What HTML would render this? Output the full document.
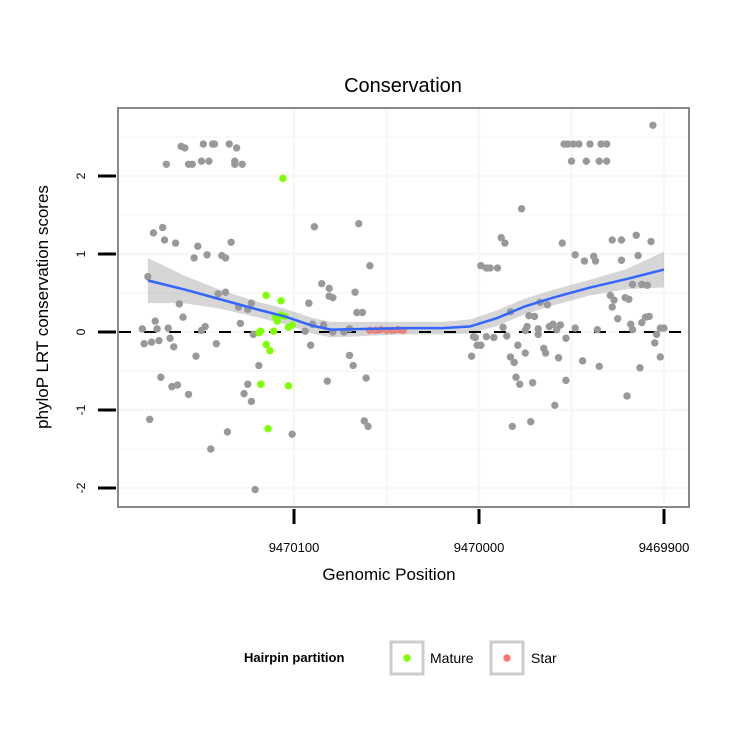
<!DOCTYPE html>
<html><head><meta charset="utf-8"><style>
body{margin:0;background:#fff;font-family:"Liberation Sans",sans-serif}
</style></head><body>
<svg id="c" width="750" height="750" xmlns="http://www.w3.org/2000/svg" style="font-family:'Liberation Sans',sans-serif">
<text x="403" y="92" text-anchor="middle" font-size="20">Conservation</text>
<g id="grid"></g><g id="band"></g><g id="pts"></g><g id="line"></g>
<rect x="118" y="108" width="571" height="399" fill="none" stroke="#888" stroke-width="2"/>
<g id="axes"></g>
<text x="389" y="580" text-anchor="middle" font-size="17">Genomic Position</text>
<text transform="translate(48,307) rotate(-90)" text-anchor="middle" font-size="17">phyloP LRT conservation scores</text>
<g>
<text x="244" y="662" font-size="13" font-weight="bold">Hairpin partition</text>
<g><rect x="391" y="642" width="32" height="32" fill="#fff" stroke="#ccc" stroke-width="3"/><circle cx="407" cy="658" r="3.7" fill="#7FFF00"/><text x="430" y="663" font-size="14">Mature</text></g>
<g><rect x="491" y="642" width="32" height="32" fill="#fff" stroke="#ccc" stroke-width="3"/><circle cx="507" cy="658" r="3.7" fill="#F8766D"/><text x="531" y="663" font-size="14">Star</text></g>
</g>
</svg>
<script>
const BASE=9470100;
const greyPos=[61,59,49,44,43,35,31,69,57,55,50,46,32,32,28,-11,76,71,70,64,52,54,47,39,37,34,79,41,37,62,30,25,23,60,75,74,82,68,48,50,29,22,-8,-10,-6,81,77,73,67,65,53,42,-9,19,72,66,63,57,25,27,23,78,36,45,1,21,
-35,-41,-15,-19,-19,-21,-33,-8,-34,-37,-16,-30,-21,-27,-30,-32,-18,-39,-38,-40,-101,-104,-98,-104,-99,-101,-96,
-194,-146,-148,-151,-154,-160,-166,-169,-150,-158,-165,-169,-123,-112,-114,-145,-172,-177,-185,-193,-152,-157,-162,-163,-177,-186,-106,-110,-183,-188,-191,-133,-137,-171,-173,-179,-181,-172,-117,-127,-130,-175,-190,-192,-188,-113,-126,-132,-138,-140,-144,-152,-164,-182,-183,-198,-200,-97,-108,-115,-125,-132,-142,-147,-196,-195,-121,-117,-119,-125,-135,-136,-143,-156,-165,-187,-198,-120,-122,-129,-147,-141,-180,-118,-128];
const greyScore=[2.38,2.36,2.41,2.41,2.41,2.41,2.36,2.15,2.15,2.15,2.19,2.19,2.19,2.15,2.15,1.35,1.27,1.34,1.18,1.14,1.10,0.95,0.99,0.98,0.95,1.15,0.71,0.49,0.51,0.36,0.32,0.29,0.37,0.19,0.14,0.04,0.04,0.05,0.07,0.02,0.11,-0.03,0.37,0.10,0.01,-0.15,-0.13,-0.11,-0.08,-0.19,-0.31,-0.15,-0.17,-0.43,-0.58,-0.70,-0.68,-0.80,-0.67,-0.79,-0.89,-1.12,-1.28,-1.50,-1.31,-2.02,
1.39,0.85,0.62,0.56,0.46,0.44,0.51,0.37,0.25,0.25,0.09,0.04,0,0,-0.30,-0.43,-0.63,-0.59,-1.14,-1.21,0.85,0.82,-0.07,-0.06,-0.17,-0.17,-0.31,
2.65,2.41,2.41,2.41,2.41,2.41,2.41,2.41,2.19,2.19,2.19,2.19,1.58,1.21,1.14,1.14,1.18,1.18,1.24,1.16,0.99,0.91,0.97,0.91,0.92,0.98,0.82,0.82,0.61,0.61,0.60,0.38,0.35,0.47,0.41,0.44,0.42,0.32,0.26,0.21,0.20,0.17,0.19,0.20,0.12,0.06,0.07,0.04,0.07,0.10,0.09,0.05,0.03,0.10,0.03,0.05,0.05,-0.06,-0.07,-0.05,0.02,-0.03,0.03,-0.08,-0.03,-0.14,-0.17,-0.32,-0.39,-0.27,-0.21,-0.27,-0.33,-0.37,-0.44,-0.46,-0.32,-0.58,-0.67,-0.65,-0.62,-0.94,-0.82,-1.21,-1.15];
const maturePos=[6,15,7,10,7,9,5,1,3,11,18,19,15,13,18,3,14];
const matureScore=[1.97,0.47,0.40,0.19,0.22,0.14,0.20,0.09,0.06,0.01,0.01,-0.01,-0.16,-0.24,-0.67,-0.69,-1.24];
const starPos=[-41,-44,-47,-50,-53,-56,-59];
const starScore=[0.02,0.02,0.03,0.02,0.02,0.03,0.02];
const smoothPos=[79,60,40,20,5,-10,-20,-40,-60,-80,-95,-110,-125,-140,-160,-180,-200];
const smoothFit=[0.66,0.55,0.42,0.29,0.20,0.08,0.03,0.04,0.05,0.05,0.07,0.18,0.33,0.44,0.57,0.68,0.80];
const smoothSE=[0.29,0.18,0.12,0.10,0.10,0.10,0.10,0.09,0.08,0.08,0.09,0.10,0.10,0.10,0.10,0.13,0.23];
const yTicks=[-2,-1,0,1,2];
const xTicks=[9470100,9470000,9469900];
const NS="http://www.w3.org/2000/svg";
const X=p=>294+(9470100-p)*1.85;
const Y=s=>332-s*78;
function mk(t,a,parent){const e=document.createElementNS(NS,t);for(const k in a)e.setAttribute(k,a[k]);parent.appendChild(e);return e;}
const grid=document.getElementById('grid');
[-2,-1.5,-1,-0.5,0,0.5,1,1.5,2,2.5].forEach(v=>{const e=mk('line',{x1:119,x2:688,y1:Y(v),y2:Y(v),stroke:'#f7f7f7','stroke-width':v%1?1.5:2.5},grid);

});
[9470100,9470050,9470000,9469950,9469900].forEach(v=>{const e=mk('line',{x1:X(v),x2:X(v),y1:109,y2:506,stroke:'#f7f7f7','stroke-width':2.5},grid);

});
const band=document.getElementById('band');
let d='';smoothPos.forEach((p,i)=>{d+=(i?'L':'M')+X(BASE+p)+','+Y(smoothFit[i]+smoothSE[i]);});
for(let i=smoothPos.length-1;i>=0;i--)d+='L'+X(BASE+smoothPos[i])+','+Y(smoothFit[i]-smoothSE[i]);
const b=mk('path',{d:d+'Z',fill:'#999','fill-opacity':0.4},band);


const hl=mk('line',{x1:119,x2:688,y1:Y(0),y2:Y(0),stroke:'#000','stroke-width':2,'stroke-dasharray':'12,13'},band);


const pts=document.getElementById('pts');
function dots(P,S,col,name){P.forEach((p,i)=>{const c=mk('circle',{cx:X(BASE+p),cy:Y(S[i]),r:3.7,fill:col},pts);

});}
dots(greyPos,greyScore,'#999999','point-other');
dots(starPos,starScore,'#E8877E','point-star');
dots(maturePos,matureScore,'#7FFF00','point-mature');
let ld='';smoothPos.forEach((p,i)=>{ld+=(i?'L':'M')+X(BASE+p)+','+Y(smoothFit[i]);});
const ln=mk('path',{d:ld,fill:'none',stroke:'#3366FF','stroke-width':2.5,'stroke-linejoin':'round'},document.getElementById('line'));


const ax=document.getElementById('axes');
yTicks.forEach(v=>{const t=mk('line',{x1:98,x2:116,y1:Y(v),y2:Y(v),stroke:'#000','stroke-width':3},ax);


const l=mk('text',{transform:`translate(85,${Y(v)}) rotate(-90)`,'text-anchor':'middle','font-size':12},ax);l.textContent=v;

});
xTicks.forEach(v=>{const t=mk('line',{x1:X(v),x2:X(v),y1:509,y2:524,stroke:'#000','stroke-width':3},ax);


const l=mk('text',{x:X(v),y:552,'text-anchor':'middle','font-size':13},ax);l.textContent=v;

});
</script>
</body></html>
